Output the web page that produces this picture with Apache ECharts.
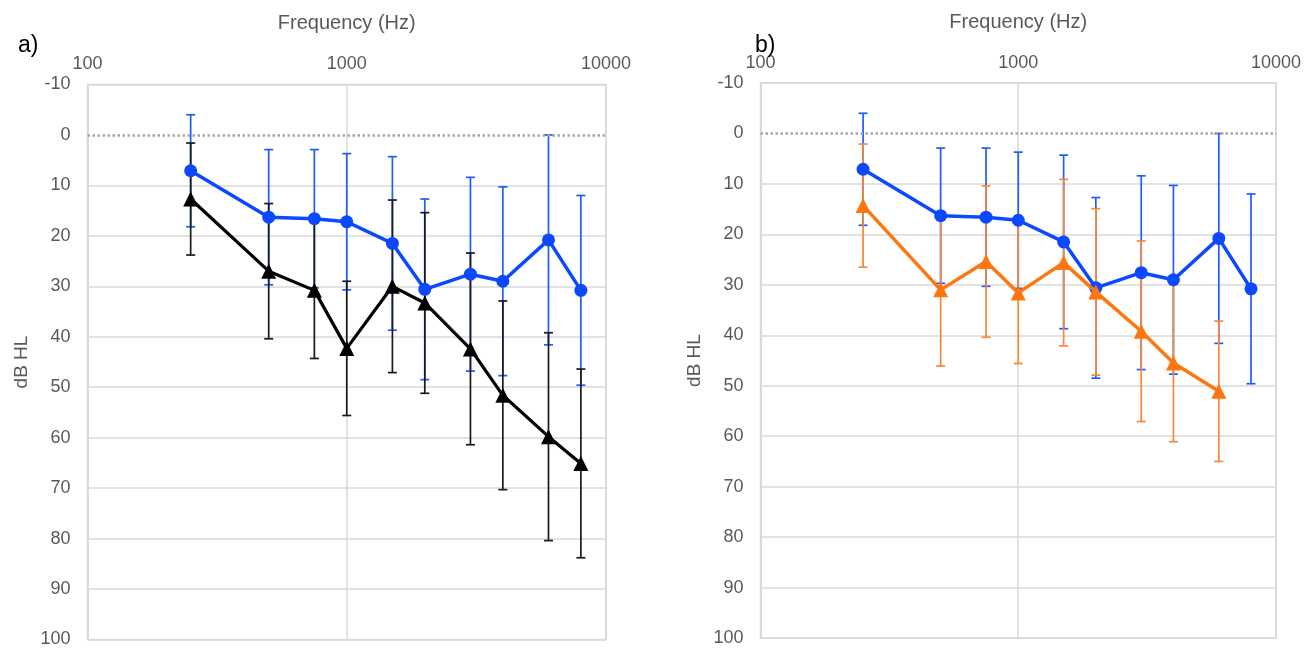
<!DOCTYPE html>
<html>
<head>
<meta charset="utf-8">
<script src="https://cdn.jsdelivr.net/npm/echarts@6/dist/echarts.min.js"></script>
<style>
  html, body { margin: 0; padding: 0; background: #fff; }
  #chart { width: 1308px; height: 652px; }
</style>
</head>
<body>
<div id="chart"></div>
<script>
// audiogram: mean thresholds (dB HL) +/- SD per frequency
const freqs = [250, 500, 750, 1000, 1500, 2000, 3000, 4000, 6000, 8000]
const blueMean = [7.1, 16.3, 16.6, 17.2, 21.5, 30.6, 27.6, 29.0, 20.8, 30.8]
const blueSd = [11.1, 13.4, 13.7, 13.5, 17.2, 17.9, 19.2, 18.7, 20.8, 18.8]

const blackMean = [12.7, 27.0, 30.8, 42.3, 30.0, 33.3, 42.4, 51.6, 59.8, 65.1]
const blackSd = [11.1, 13.4, 13.5, 13.3, 17.1, 17.9, 19.0, 18.7, 20.6, 18.7]

const orangeFreqs = [250, 500, 750, 1000, 1500, 2000, 3000, 4000, 6000]
const orangeMean = [14.3, 31.0, 25.4, 31.6, 25.6, 31.4, 39.2, 45.5, 51.1]
const orangeSd = [12.2, 15.1, 15.0, 14.0, 16.5, 16.5, 17.9, 15.6, 13.9]

const yTicks = [-10, 0, 10, 20, 30, 40, 50, 60, 70, 80, 90, 100]

const BLUE = '#0b48ff'
const BLACK = '#000000'
const ORANGE = '#ff760f'
const GRID = '#d9d9d9'
const TXT = '#595959'
const FONT = 'Liberation Sans, Arial, sans-serif'

const pts = (xs, ys) => xs.map((f, i) => [f, ys[i]])
const bars = (xs, m, sd) => xs.map((f, i) => [f, m[i] - sd[i], m[i] + sd[i]])

// 0 dB line is drawn dotted by a markLine, so its split line is hidden
const splitColors = yTicks.map((v) => (v === 0 ? 'rgba(0,0,0,0)' : GRID))

function errSeries(idx, data, color) {
  return {
    type: 'custom',
    xAxisIndex: idx,
    yAxisIndex: idx,
    data,
    encode: { x: 0, y: [1, 2] },
    silent: true,
    z: 2,
    renderItem: (params, api) => {
      const f = api.value(0)
      const a = api.coord([f, api.value(1)])
      const b = api.coord([f, api.value(2)])
      const w = 4.5
      const style = { stroke: color, lineWidth: 1.7 }
      return {
        type: 'group',
        children: [
          { type: 'line', shape: { x1: a[0], y1: a[1], x2: b[0], y2: b[1] }, style },
          { type: 'line', shape: { x1: a[0] - w, y1: a[1], x2: a[0] + w, y2: a[1] }, style },
          { type: 'line', shape: { x1: b[0] - w, y1: b[1], x2: b[0] + w, y2: b[1] }, style },
        ],
      }
    },
  }
}

function lineSeries(idx, data, color, symbol, size, width, z) {
  return {
    type: 'line',
    xAxisIndex: idx,
    yAxisIndex: idx,
    data,
    symbol,
    symbolSize: size,
    showSymbol: true,
    lineStyle: { color, width },
    itemStyle: { color },
    z,
    silent: true,
    animation: false,
  }
}

function zeroLine(idx) {
  return {
    type: 'line',
    xAxisIndex: idx,
    yAxisIndex: idx,
    data: [],
    markLine: {
      silent: true,
      symbol: 'none',
      label: { show: false },
      lineStyle: { color: '#a6a6a6', width: 2.5, type: [2.5, 2.5] },
      data: [{ yAxis: 0 }],
    },
  }
}

function xAxis(idx) {
  return {
    type: 'log',
    logBase: 10,
    gridIndex: idx,
    min: 100,
    max: 10000,
    position: 'top',
    name: 'Frequency (Hz)',
    nameLocation: 'middle',
    nameGap: 51,
    nameTextStyle: { color: TXT, fontSize: 20, fontFamily: FONT },
    axisLine: { show: false },
    axisTick: { show: false },
    axisLabel: { color: TXT, fontSize: 18, fontFamily: FONT, margin: 11, formatter: (v) => String(v) },
    splitLine: { show: true, lineStyle: { color: GRID, width: 1.5 } },
    minorSplitLine: { show: false },
  }
}

function yAxis(idx) {
  return {
    type: 'value',
    gridIndex: idx,
    inverse: true,
    min: -10,
    max: 100,
    interval: 10,
    name: 'dB HL',
    nameLocation: 'middle',
    nameRotate: 90,
    nameGap: 56,
    nameTextStyle: { color: TXT, fontSize: 19, fontFamily: FONT },
    axisLine: { show: true, lineStyle: { color: GRID, width: 1.5 } },
    axisTick: { show: false },
    axisLabel: { color: TXT, fontSize: 18, fontFamily: FONT, margin: 17 },
    splitLine: { show: true, lineStyle: { color: splitColors, width: 1.5 } },
  }
}

const chart = echarts.init(document.getElementById('chart'), null, { renderer: 'canvas' })
chart.setOption({
  animation: false,
  backgroundColor: '#fff',
  title: [
    { text: 'a)', left: 13, top: 29, textStyle: { color: '#000', fontSize: 23, fontWeight: 'normal', fontFamily: FONT } },
    { text: 'b)', left: 750, top: 29, textStyle: { color: '#000', fontSize: 23, fontWeight: 'normal', fontFamily: FONT } },
  ],
  grid: [
    { left: 87.5, top: 84.5, width: 518.5, height: 555, show: true, borderColor: GRID, borderWidth: 1.5, backgroundColor: 'transparent' },
    { left: 760.5, top: 83, width: 515.5, height: 555, show: true, borderColor: GRID, borderWidth: 1.5, backgroundColor: 'transparent' },
  ],
  xAxis: [xAxis(0), xAxis(1)],
  yAxis: [yAxis(0), yAxis(1)],
  series: [
    zeroLine(0),
    zeroLine(1),
    // panel a
    errSeries(0, bars(freqs, blueMean, blueSd), '#1d5cff'),
    errSeries(0, bars(freqs, blackMean, blackSd), '#1a1a1a'),
    lineSeries(0, pts(freqs, blackMean), BLACK, 'triangle', 15, 3.2, 4),
    lineSeries(0, pts(freqs, blueMean), BLUE, 'circle', 13, 3.5, 5),
    // panel b
    errSeries(1, bars(freqs, blueMean, blueSd), '#1d5cff'),
    errSeries(1, bars(orangeFreqs, orangeMean, orangeSd), '#f7883a'),
    lineSeries(1, pts(freqs, blueMean), BLUE, 'circle', 13, 3.5, 4),
    lineSeries(1, pts(orangeFreqs, orangeMean), ORANGE, 'triangle', 15, 3.5, 5),
  ],
})
</script>
</body>
</html>
